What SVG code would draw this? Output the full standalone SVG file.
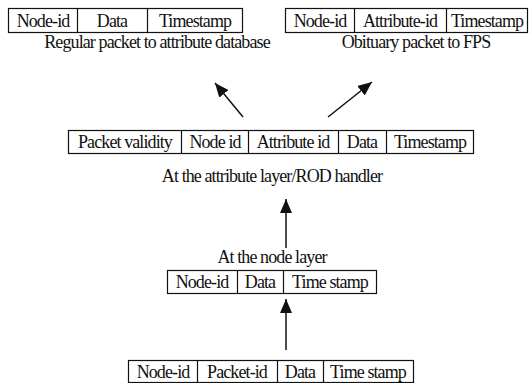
<svg xmlns="http://www.w3.org/2000/svg" width="529" height="383" viewBox="0 0 529 383">
<style>
text{font-family:"Liberation Serif","Times New Roman",serif;font-size:18px;letter-spacing:-0.9px;fill:#111;text-anchor:middle}
.box{fill:#fff;stroke:#111;stroke-width:1.2}
.div{stroke:#111;stroke-width:1.2}
.conn{stroke:#111;stroke-width:1.5;fill:none}
</style>
<defs>
<marker id="ah2" viewBox="0 0 14 12" refX="14" refY="6" markerWidth="14" markerHeight="12" markerUnits="userSpaceOnUse" orient="auto">
<path d="M0,0 L14,6 L0,12 z" fill="#111"/>
</marker>
</defs>
<rect width="529" height="383" fill="#fff"/>
<g id="regular-packet">
<rect class="box" x="8.5" y="8.5" width="234" height="24"/>
<line class="div" x1="77.5" y1="8.5" x2="77.5" y2="32.5"/>
<line class="div" x1="147.5" y1="8.5" x2="147.5" y2="32.5"/>
<text x="43" y="27">Node-id</text>
<text x="112" y="27">Data</text>
<text x="195" y="27">Timestamp</text>
<text x="157" y="48">Regular packet to attribute database</text>
</g>
<g id="obituary-packet">
<rect class="box" x="285.5" y="8.5" width="242" height="24"/>
<line class="div" x1="354.5" y1="8.5" x2="354.5" y2="32.5"/>
<line class="div" x1="446.5" y1="8.5" x2="446.5" y2="32.5"/>
<text x="320" y="27">Node-id</text>
<text x="400" y="27">Attribute-id</text>
<text x="487" y="27">Timestamp</text>
<text x="416" y="48">Obituary packet to FPS</text>
</g>
<g id="attribute-layer">
<rect class="box" x="68.5" y="130.5" width="405" height="23"/>
<line class="div" x1="181.5" y1="130.5" x2="181.5" y2="153.5"/>
<line class="div" x1="248.5" y1="130.5" x2="248.5" y2="153.5"/>
<line class="div" x1="338.5" y1="130.5" x2="338.5" y2="153.5"/>
<line class="div" x1="386.5" y1="130.5" x2="386.5" y2="153.5"/>
<text x="125" y="148">Packet validity</text>
<text x="215" y="148">Node id</text>
<text x="293" y="148">Attribute id</text>
<text x="362" y="148">Data</text>
<text x="430" y="148">Timestamp</text>
<text x="272" y="182">At the attribute layer/ROD handler</text>
</g>
<g id="node-layer">
<text x="272" y="263">At the node layer</text>
<rect class="box" x="167.5" y="270.5" width="209" height="23"/>
<line class="div" x1="237.5" y1="270.5" x2="237.5" y2="293.5"/>
<line class="div" x1="283.5" y1="270.5" x2="283.5" y2="293.5"/>
<text x="202" y="288">Node-id</text>
<text x="260" y="288">Data</text>
<text x="330" y="288">Time stamp</text>
</g>
<g id="raw-packet">
<rect class="box" x="128.5" y="360.5" width="285" height="22"/>
<line class="div" x1="197.5" y1="360.5" x2="197.5" y2="382.5"/>
<line class="div" x1="277.5" y1="360.5" x2="277.5" y2="382.5"/>
<line class="div" x1="323.5" y1="360.5" x2="323.5" y2="382.5"/>
<text x="163" y="378">Node-id</text>
<text x="237" y="378">Packet-id</text>
<text x="300" y="378">Data</text>
<text x="368" y="378">Time stamp</text>
</g>
<g id="connectors">
<line class="conn" marker-end="url(#ah2)" x1="286" y1="350" x2="286" y2="299"/>
<line class="conn" marker-end="url(#ah2)" x1="286" y1="248" x2="286" y2="199"/>
<line class="conn" marker-end="url(#ah2)" x1="243" y1="117" x2="215" y2="83"/>
<line class="conn" marker-end="url(#ah2)" x1="328" y1="117" x2="372" y2="82"/>
</g>
</svg>
